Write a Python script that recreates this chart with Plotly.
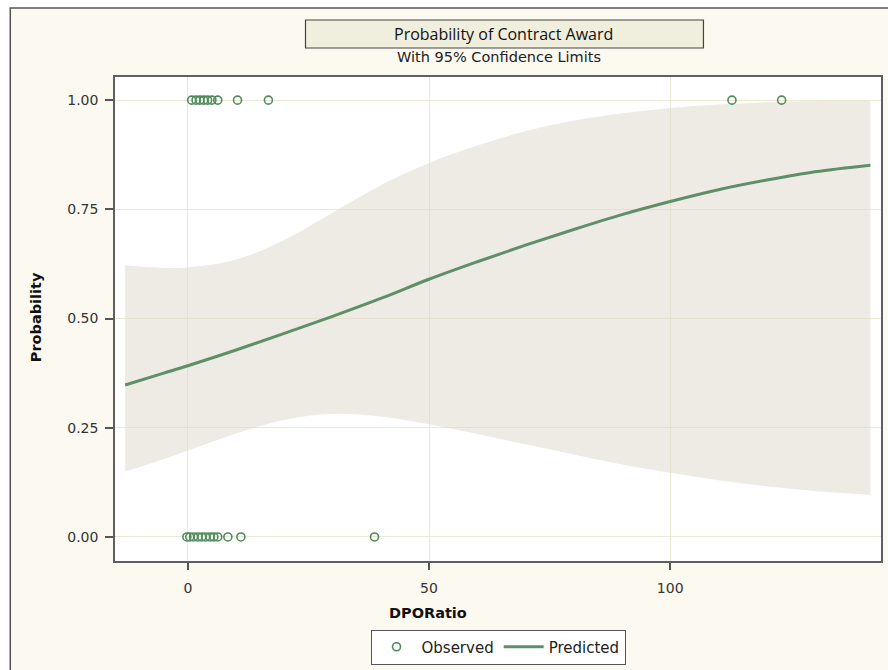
import plotly.graph_objects as go

# ---- data ----
curve_x = [-13, -5, 0, 10, 20, 30, 40, 50, 60, 70, 80, 90, 100, 110, 120, 130, 141.5]
predicted = [0.348, 0.375, 0.392, 0.428, 0.466, 0.505, 0.546, 0.590, 0.630, 0.668, 0.704,
             0.738, 0.768, 0.795, 0.817, 0.836, 0.851]
upper_cl = [0.622, 0.616, 0.617, 0.635, 0.680, 0.742, 0.805, 0.856, 0.896, 0.929, 0.953,
            0.970, 0.982, 0.990, 0.995, 0.998, 0.999]
lower_cl = [0.150, 0.178, 0.198, 0.237, 0.268, 0.282, 0.276, 0.258, 0.236, 0.212, 0.189,
            0.166, 0.147, 0.130, 0.116, 0.105, 0.096]

obs_x_one = [0.8, 1.7, 2.5, 3.3, 4.1, 5.0, 6.2, 10.3, 16.7, 112.8, 123.1]
obs_x_zero = [-0.2, 0.4, 1.2, 2.1, 2.9, 3.7, 4.6, 5.4, 6.2, 8.3, 11.0, 38.7]

x_ticks = [0, 50, 100]
y_ticks = [0.0, 0.25, 0.5, 0.75, 1.0]
y_tick_text = ["0.00", "0.25", "0.50", "0.75", "1.00"]

GREEN = "#4f8a5b"
LINE_GREEN = "#5e8f68"
FONT = "DejaVu Sans, Verdana, sans-serif"

fig = go.Figure()

# confidence band
fig.add_trace(go.Scatter(
    x=curve_x, y=lower_cl, mode="lines", line=dict(width=0, shape="spline"),
    hoverinfo="skip", showlegend=False))
fig.add_trace(go.Scatter(
    x=curve_x, y=upper_cl, mode="lines", line=dict(width=0, shape="spline"),
    fill="tonexty", fillcolor="rgba(221,215,201,0.5)",
    hoverinfo="skip", showlegend=False))

# observed points
fig.add_trace(go.Scatter(
    x=obs_x_one + obs_x_zero,
    y=[1.0] * len(obs_x_one) + [0.0] * len(obs_x_zero),
    mode="markers", name="Observed",
    marker=dict(symbol="circle-open", size=8, color=GREEN, line=dict(width=1.6, color=GREEN))))

# predicted curve
fig.add_trace(go.Scatter(
    x=curve_x, y=predicted, mode="lines", name="Predicted",
    line=dict(color=LINE_GREEN, width=3, shape="spline")))

W, H = 888, 670
L, R, T, B = 115, 883, 77, 561


def px(xp):
    return (xp - L) / (R - L)


def py(yp):
    return (B - yp) / (B - T)


fig.update_layout(
    width=W, height=H,
    margin=dict(l=L, r=W - R, t=T, b=H - B),
    paper_bgcolor="#fcf9f1", plot_bgcolor="white",
    font=dict(family=FONT, size=14, color="#333333"),
    showlegend=True,
    legend=dict(orientation="h", x=px(499), y=py(647), xanchor="center", yanchor="middle",
                bgcolor="white", bordercolor="#555555", borderwidth=1,
                traceorder="normal",
                font=dict(family=FONT, size=15, color="#222222"), itemwidth=40,
                tracegroupgap=0),
    shapes=[
        # white margin outside the outer frame
        dict(type="rect", xref="paper", yref="paper", layer="below",
             x0=px(-5), x1=px(10), y0=py(680), y1=py(-5),
             fillcolor="white", line=dict(width=0)),
        dict(type="rect", xref="paper", yref="paper", layer="below",
             x0=px(-5), x1=px(895), y0=py(8), y1=py(-5),
             fillcolor="white", line=dict(width=0)),
        # outer frame
        dict(type="rect", xref="paper", yref="paper", layer="below",
             x0=px(10), x1=px(895), y0=py(680), y1=py(8),
             line=dict(color="#555555", width=1.5)),
        # title box
        dict(type="rect", xref="paper", yref="paper",
             x0=px(306), x1=px(705), y0=py(48), y1=py(20),
             fillcolor="#f0eedc", line=dict(color="#444444", width=1.2)),
    ],
    annotations=[
        dict(text="Probability of Contract Award", xref="paper", yref="paper",
             x=px(505), y=py(34), showarrow=False, xanchor="center", yanchor="middle",
             font=dict(family="Open Sans, Noto Sans, sans-serif", size=16, color="#111111")),
        dict(text="With 95% Confidence Limits", xref="paper", yref="paper",
             x=px(500), y=py(57), showarrow=False, xanchor="center", yanchor="middle",
             font=dict(family=FONT, size=14.5, color="#222222")),
        dict(text="<b>Probability</b>", xref="paper", yref="paper",
             x=px(36), y=py(317), showarrow=False, textangle=-90,
             xanchor="center", yanchor="middle",
             font=dict(family=FONT, size=14.5, color="#111111")),
        dict(text="<b>DPORatio</b>", xref="paper", yref="paper",
             x=px(429), y=py(613), showarrow=False, xanchor="center", yanchor="middle",
             font=dict(family=FONT, size=14.5, color="#111111")),
    ],
)

fig.update_xaxes(
    range=[-15.1, 143.7], tickvals=x_ticks, ticks="outside", ticklen=7, tickwidth=1.5,
    tickcolor="#555555", showline=True, linecolor="#5f5f5f", linewidth=1.5, mirror=True,
    showgrid=True, gridcolor="#ece8d6", gridwidth=1, zeroline=False,
    ticklabelstandoff=6, tickfont=dict(family=FONT, size=14, color="#333333"))
fig.update_yaxes(
    range=[-0.055, 1.053], tickvals=y_ticks, ticktext=y_tick_text, ticks="outside",
    ticklen=8, tickwidth=1.5, tickcolor="#555555", showline=True, linecolor="#5f5f5f",
    linewidth=1.5, mirror=True, showgrid=True, gridcolor="#ece8d6", gridwidth=1,
    zeroline=False, ticklabelstandoff=4, tickfont=dict(family=FONT, size=14, color="#333333"))

fig.write_html("out.html")
